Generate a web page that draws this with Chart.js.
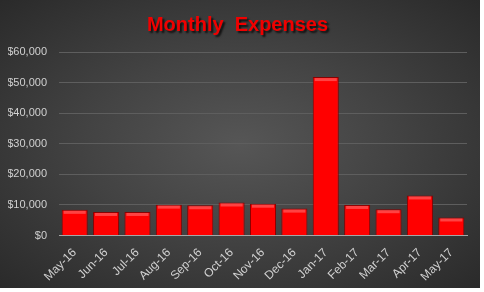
<!DOCTYPE html>
<html>
<head>
<meta charset="utf-8">
<script src="https://cdn.jsdelivr.net/npm/chart.js@4/dist/chart.umd.min.js"></script>
<style>
  html, body { margin: 0; padding: 0; background: #fff; }
  #wrap { width: 480px; height: 288px; position: relative;
    background: radial-gradient(ellipse at 50% 50%, #565656 0%, #434343 45%, #2a2a2a 100%); }
</style>
</head>
<body>
<div id="wrap"><canvas id="chart1"></canvas></div>
<script>
  // Monthly expenses
  const months = ['May-16', 'Jun-16', 'Jul-16', 'Aug-16', 'Sep-16', 'Oct-16', 'Nov-16',
                  'Dec-16', 'Jan-17', 'Feb-17', 'Mar-17', 'Apr-17', 'May-17'];
  const expenses = [8400, 7700, 7700, 10100, 9900, 10800, 10400, 8800, 51800, 10000, 8600, 13100, 5900];

  const ctx1 = document.getElementById('chart1').getContext('2d');

  // bevelled look for the bars
  function barFill(context) {
    const chart = context.chart;
    const el = context.element;
    if (!el || el.x === undefined || !chart.chartArea) return '#ff0000';
    const w = el.width || 26;
    const g = chart.ctx.createLinearGradient(el.x - w / 2, 0, el.x + w / 2, 0);
    g.addColorStop(0, '#d80000');
    g.addColorStop(0.12, '#ff0a0a');
    g.addColorStop(0.88, '#ff0a0a');
    g.addColorStop(1, '#c80000');
    return g;
  }

  // lighter strip along the top of each bar
  const bevel = {
    id: 'bevel',
    afterDatasetsDraw(chart) {
      const c = chart.ctx;
      chart.getDatasetMeta(0).data.forEach(bar => {
        const w = bar.width;
        c.save();
        c.fillStyle = 'rgba(255,120,120,0.55)';
        c.fillRect(bar.x - w / 2 + 2, bar.y + 1, w - 4, 3);
        c.restore();
      });
    }
  };

  // title redrawn with a drop shadow (built-in title keeps the space)
  const shadowTitle = {
    id: 'shadowTitle',
    afterDraw(chart) {
      const tb = chart.titleBlock;
      if (!tb) return;
      const c = chart.ctx;
      c.save();
      c.font = 'bold 20px "Liberation Sans"';
      c.textAlign = 'center';
      c.textBaseline = 'middle';
      c.shadowColor = 'rgba(0,0,0,0.75)';
      c.shadowOffsetX = 2;
      c.shadowOffsetY = 2;
      c.shadowBlur = 2;
      c.fillStyle = '#f00000';
      c.fillText('Monthly  Expenses', tb.left + tb.width / 2, tb.top + 5 + 12);
      c.restore();
    }
  };

  new Chart(ctx1, {
    type: 'bar',
    data: {
      labels: months,
      datasets: [{
        label: 'Expenses',
        data: expenses,
        backgroundColor: barFill,
        borderColor: '#8a0000',
        borderWidth: 1,
        barPercentage: 0.83,
        categoryPercentage: 1
      }]
    },
    plugins: [bevel, shadowTitle],
    options: {
      responsive: true,
      maintainAspectRatio: false,
      animation: false,
      layout: { padding: { left: 8, right: 13, top: 8, bottom: 2 } },
      plugins: {
        legend: { display: false },
        tooltip: { enabled: false },
        title: {
          display: true,
          text: 'Monthly  Expenses',
          color: 'rgba(0,0,0,0)',
          font: { family: 'Liberation Sans', size: 20, weight: 'bold' },
          padding: { top: 5, bottom: 15 }
        }
      },
      scales: {
        x: {
          grid: { display: false },
          border: { color: '#a6a6a6', width: 1 },
          afterFit: s => { s.paddingLeft = 0; s.paddingRight = 0; },
          ticks: {
            color: '#d0d0d0',
            font: { family: 'Liberation Sans', size: 12 },
            maxRotation: 45,
            minRotation: 45,
            padding: 2
          }
        },
        y: {
          min: 0,
          max: 60000,
          afterFit: s => { s.width = 51; },
          grid: { color: '#5e5e5e', drawTicks: false },
          border: { display: false },
          ticks: {
            stepSize: 10000,
            color: '#d0d0d0',
            padding: 12,
            font: { family: 'Liberation Sans', size: 11 },
            callback: v => '$' + v.toLocaleString('en-US')
          }
        }
      }
    }
  });
</script>
</body>
</html>
